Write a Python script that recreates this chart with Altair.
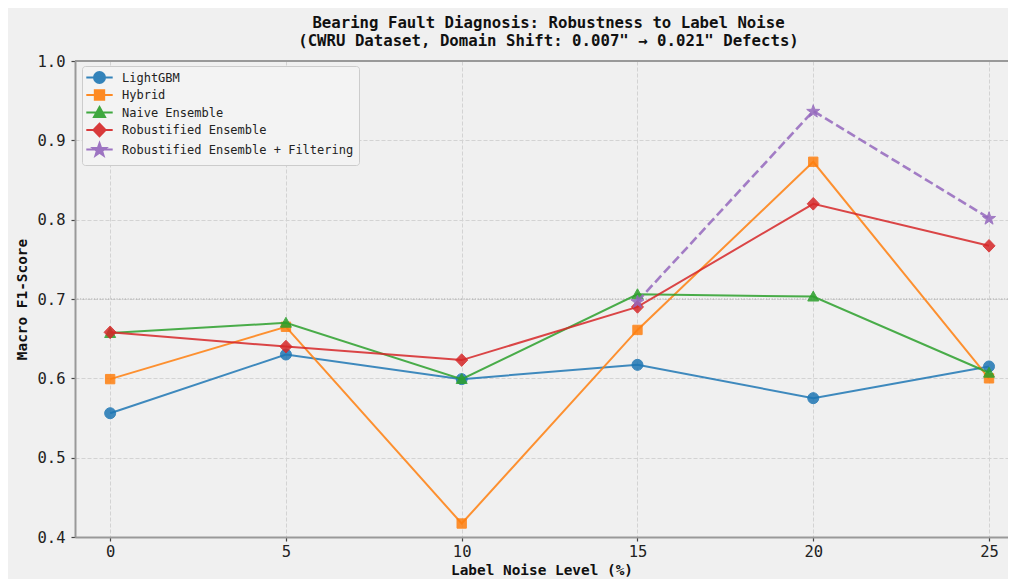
import math
import altair as alt
import pandas as pd

# ---------------- data ----------------
noise_levels = [0, 5, 10, 15, 20, 25]
lightgbm = [0.556, 0.630, 0.599, 0.617, 0.575, 0.615]
hybrid = [0.599, 0.665, 0.417, 0.661, 0.873, 0.600]
naive_ensemble = [0.657, 0.670, 0.599, 0.706, 0.703, 0.607]
robustified = [0.658, 0.640, 0.623, 0.690, 0.820, 0.767]
filter_levels = [15, 20, 25]
robustified_filtering = [0.697, 0.937, 0.802]

series_names = ["LightGBM", "Hybrid", "Naive Ensemble", "Robustified Ensemble",
                "Robustified Ensemble + Filtering"]
series_x = [noise_levels, noise_levels, noise_levels, noise_levels, filter_levels]
series_y = [lightgbm, hybrid, naive_ensemble, robustified, robustified_filtering]
reference_level = [0.7]
y_top = 1.0
x_ticks = [0, 5, 10, 15, 20, 25]
y_ticks = [0.4, 0.5, 0.6, 0.7, 0.8, 0.9, 1.0]

title_lines = ["Bearing Fault Diagnosis: Robustness to Label Noise",
               "(CWRU Dataset, Domain Shift: 0.007\" \u2192 0.021\" Defects)"]

# ---------------- styles ----------------
colors = ["#1f77b4", "#ff7f0e", "#2ca02c", "#d62728", "#9467bd"]
dashes = [None, None, None, None, [9, 4]]
widths = [2, 2, 2, 2, 2.6]


def star_path(outer=1.25, inner=0.5):
    pts = []
    for k in range(10):
        r = outer if k % 2 == 0 else inner
        a = -math.pi / 2 + k * math.pi / 5
        pts.append((r * math.cos(a), r * math.sin(a) + 0.1))
    return "M" + "L".join(f"{px:.3f},{py:.3f}" for px, py in pts) + "Z"


marker_paths = [
    "M-1,0A1,1,0,1,0,1,0A1,1,0,1,0,-1,0Z",
    "M-0.85,-0.85H0.85V0.85H-0.85Z",
    "M0,-1L1,0.8H-1Z",
    "M0,-1.15L1.1,0L0,1.15L-1.1,0Z",
    star_path(),
]
legend_line = "M-2.4,0H2.4"
legend_paths = [legend_line + p for p in marker_paths]

MONO = "DejaVu Sans Mono"
MARK_SIZE = 121
SPINE = "#999999"

x_scale = alt.Scale(domain=[-1, 25.54], nice=False, zero=False)
y_scale = alt.Scale(domain=[0.4, 1.0], nice=False, zero=False)

x_axis = alt.Axis(values=x_ticks, title="Label Noise Level (%)", format="d",
                  labelFont=MONO, labelFontSize=15.5, labelColor="#222222",
                  titleFont=MONO, titleFontSize=14.4, titleFontWeight="bold",
                  titleColor="#111111", titleBaseline="alphabetic", titleY=37,
                  labelPadding=3,
                  tickSize=4, tickColor="#444444", tickWidth=1.2,
                  domain=True, domainColor=SPINE, domainWidth=2,
                  grid=True, gridColor="#d3d3d3", gridDash=[4, 2], gridWidth=1)
y_axis = alt.Axis(values=y_ticks, title="Macro F1-Score", format=".1f",
                  labelFont=MONO, labelFontSize=15.5, labelColor="#222222",
                  titleFont=MONO, titleFontSize=14.4, titleFontWeight="bold",
                  titleColor="#111111", titlePadding=8, labelPadding=6,
                  tickSize=4, tickColor="#444444", tickWidth=1.2,
                  domain=True, domainColor=SPINE, domainWidth=2,
                  grid=True, gridColor="#d3d3d3", gridDash=[4, 2], gridWidth=1)

X = alt.X("x:Q", scale=x_scale, axis=x_axis)
Y = alt.Y("y:Q", scale=y_scale, axis=y_axis)

layers = []

ref_df = pd.DataFrame({"y": reference_level})
layers.append(
    alt.Chart(ref_df).mark_rule(color="#a8a8a8", strokeDash=[1.2, 1.6], strokeWidth=1.2)
    .encode(y=alt.Y("y:Q", scale=y_scale, axis=y_axis))
)
# top frame line at the upper limit of the y scale
layers.append(
    alt.Chart(ref_df).mark_rule(color=SPINE, strokeWidth=2)
    .encode(y=alt.datum(y_top, scale=y_scale))
)

for i, name in enumerate(series_names):
    df = pd.DataFrame({"x": series_x[i], "y": series_y[i]})
    line_kwargs = dict(color=colors[i], strokeWidth=widths[i], opacity=0.85)
    if dashes[i]:
        line_kwargs["strokeDash"] = dashes[i]
    layers.append(alt.Chart(df).mark_line(**line_kwargs).encode(x=X, y=Y))
    layers.append(
        alt.Chart(df).mark_point(filled=True, shape=marker_paths[i], size=MARK_SIZE,
                                 color=colors[i], stroke=colors[i], strokeWidth=1,
                                 opacity=0.85)
        .encode(x=X, y=Y)
    )

# legend carrier (invisible marks, visible legend)
legend_df = pd.DataFrame({"series": series_names, "x": noise_levels[:5],
                          "y": lightgbm[:5]})
leg = alt.Legend(title=None, orient="none", legendX=7, legendY=5,
                 labelFont=MONO, labelFontSize=12, labelColor="#222222", labelLimit=0,
                 symbolSize=MARK_SIZE, symbolStrokeWidth=2, symbolOffset=6,
                 labelOffset=16, rowPadding=-1.5, padding=5,
                 fillColor="#f3f3f3", strokeColor="#cccccc", cornerRadius=3,
                 symbolOpacity=0.9)
layers.append(
    alt.Chart(legend_df).mark_point(filled=True, opacity=0, size=MARK_SIZE)
    .encode(
        x=X, y=Y,
        fill=alt.Fill("series:N", scale=alt.Scale(domain=series_names, range=colors),
                      legend=leg, sort=series_names),
        stroke=alt.Stroke("series:N", scale=alt.Scale(domain=series_names, range=colors),
                          legend=leg, sort=series_names),
        shape=alt.Shape("series:N", scale=alt.Scale(domain=series_names, range=legend_paths),
                        legend=leg, sort=series_names),
    )
)

chart = (
    alt.layer(*layers)
    .properties(
        width=933, height=476,
        autosize=alt.AutoSizeParams(type="none"),
        padding={"left": 67, "top": 53, "right": 0, "bottom": 42},
        title=alt.Title(text=title_lines, font=MONO, fontSize=15.7, fontWeight="bold",
                        color="#111111", lineHeight=18, offset=4, anchor="middle", dx=7),
    )
    .configure(background="#f0f0f0")
    .configure_view(strokeWidth=0)
)

chart.save("out.html", embed_options={"renderer": "svg", "actions": False})
